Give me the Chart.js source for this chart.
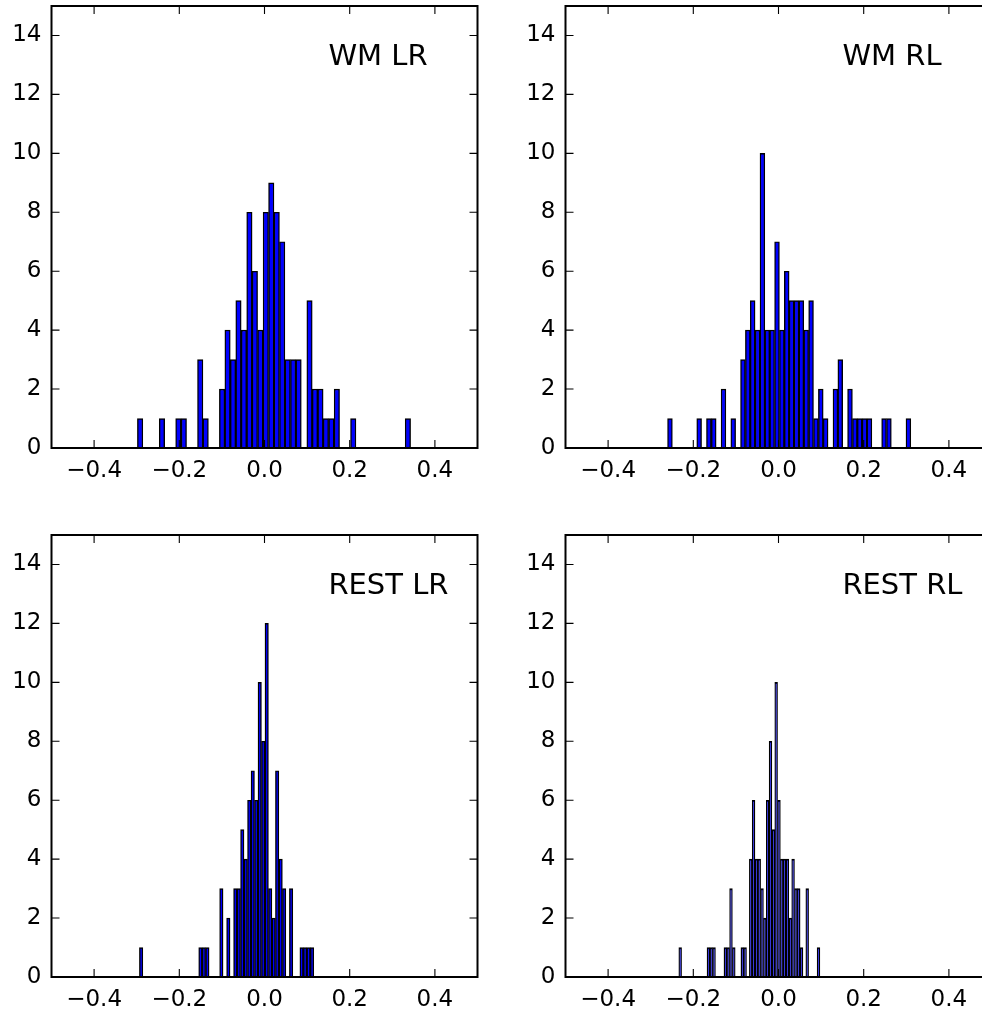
<!DOCTYPE html>
<html><head><meta charset="utf-8">
<script src="https://cdn.jsdelivr.net/npm/chart.js@4/dist/chart.umd.min.js"></script>
<style>
html,body{margin:0;padding:0;width:982px;height:1009px;overflow:hidden;background:#fff;}
#wrap{position:relative;width:982px;height:1009px;overflow:hidden;background:#fff;}
canvas{position:absolute;}
</style></head><body>
<div id="wrap">
<canvas id="c0" width="490" height="490" style="left:0px;top:0px"></canvas>
<canvas id="c1" width="490" height="490" style="left:514px;top:0px"></canvas>
<canvas id="c2" width="490" height="490" style="left:0px;top:529px"></canvas>
<canvas id="c3" width="490" height="490" style="left:514px;top:529px"></canvas>
</div>
<script>
// ---- data ----
const panelTitles = ["WM LR", "WM RL", "REST LR", "REST RL"];

// histogram ranges (first bin left edge, last bin right edge) and 50 bin counts
const wmLrRange = [-0.2984, 0.343];
const wmLrCounts = [1,0,0,0,1,0,0,1,1,0, 0,3,1,0,0,2,4,3,5,4, 8,6,4,8,9,8,7,3,3,3, 0,5,2,2,1,1,2,0,0,1, 0,0,0,0,0,0,0,0,0,1];

const wmRlRange = [-0.2605, 0.3106];
const wmRlCounts = [1,0,0,0,0,0,1,0,1,1, 0,2,0,1,0,3,4,5,4,10, 4,4,7,4,6,5,5,5,4,5, 1,2,1,0,2,3,0,2,1,1, 1,1,0,0,1,1,0,0,0,1];

const restLrRange = [-0.2937, 0.1157];
const restLrCounts = [1,0,0,0,0,0,0,0,0,0, 0,0,0,0,0,0,0,1,1,1, 0,0,0,3,0,2,0,3,3,5, 4,6,7,6,10,8,12,3,2,7, 4,3,0,3,0,0,1,1,1,1];

const restRlRange = [-0.2341, 0.0972];
const restRlCounts = [1,0,0,0,0,0,0,0,0,0, 1,1,1,0,0,0,1,1,3,1, 0,0,1,1,0,4,6,4,4,3, 2,6,8,5,10,6,4,4,4,2, 4,3,3,1,0,3,0,0,0,1];

const xTickValues = [-0.4, -0.2, 0.0, 0.2, 0.4];
const yTickValues = [0, 2, 4, 6, 8, 10, 12, 14];

// ---- helpers ----
function binCenters(range, n) {
  const w = (range[1] - range[0]) / n;
  return Array.from({length: n}, (_, i) => range[0] + w * (i + 0.5));
}
function fmtX(v) {
  const s = Math.abs(v).toFixed(1);
  return v < -1e-9 ? '\u2212' + s : s;
}
const FONT = 'DejaVu Sans';

const axesDecor = {
  id: 'axesDecor',
  afterDatasetsDraw(chart, args, opts) {
    const {ctx, chartArea: a, scales: {x, y}} = chart;
    ctx.save();
    ctx.strokeStyle = '#000';
    ctx.lineWidth = 1.1;
    ctx.beginPath();
    const tl = 8;
    xTickValues.forEach(v => {
      const px = x.getPixelForValue(v);
      ctx.moveTo(px, a.bottom); ctx.lineTo(px, a.bottom - tl);
      ctx.moveTo(px, a.top); ctx.lineTo(px, a.top + tl);
    });
    yTickValues.forEach(v => {
      const py = y.getPixelForValue(v);
      ctx.moveTo(a.left, py); ctx.lineTo(a.left + tl, py);
      ctx.moveTo(a.right, py); ctx.lineTo(a.right - tl, py);
    });
    ctx.stroke();
    ctx.lineWidth = 2;
    ctx.strokeRect(a.left, a.top, a.right - a.left, a.bottom - a.top);
    ctx.fillStyle = '#000';
    ctx.font = '29px "' + FONT + '"';
    ctx.textAlign = 'left';
    ctx.textBaseline = 'alphabetic';
    ctx.fillText(opts.title, x.getPixelForValue(0.15), y.getPixelForValue(13));
    ctx.restore();
  }
};

function makePanel(id, title, range, counts) {
  const centers = binCenters(range, counts.length);
  new Chart(document.getElementById(id), {
    type: 'bar',
    data: {
      datasets: [{
        data: counts.map((c, i) => ({x: centers[i], y: c})),
        backgroundColor: '#0000ff',
        borderColor: '#000000',
        borderWidth: 1.4,
        inflateAmount: 0.3,
        barPercentage: 1.0,
        categoryPercentage: 1.0
      }]
    },
    options: {
      responsive: false,
      animation: false,
      events: [],
      layout: {padding: {top: 6, right: 12.5, left: 0, bottom: 0}},
      plugins: {legend: {display: false}, tooltip: {enabled: false}, axesDecor: {title: title}},
      scales: {
        x: {
          type: 'linear', min: -0.5, max: 0.5, offset: false,
          grid: {display: false, drawTicks: false},
          border: {display: false},
          afterBuildTicks: s => { s.ticks = xTickValues.map(v => ({value: v})); },
          afterFit: s => { s.height = 42; s.paddingLeft = 0; s.paddingRight = 0; s.paddingTop = 0; s.paddingBottom = 0; },
          ticks: {font: {family: FONT, size: 23}, color: '#000', padding: 9, maxRotation: 0, autoSkip: false,
                  callback: v => fmtX(v)}
        },
        y: {
          type: 'linear', min: 0, max: 15,
          grid: {display: false, drawTicks: false},
          border: {display: false},
          afterBuildTicks: s => { s.ticks = yTickValues.map(v => ({value: v})); },
          afterFit: s => { s.width = 51.5; s.paddingLeft = 0; s.paddingRight = 0; s.paddingTop = 0; s.paddingBottom = 0; },
          ticks: {font: {family: FONT, size: 23}, color: '#000', padding: 10, autoSkip: false,
                  callback: v => String(v)}
        }
      }
    },
    plugins: [axesDecor]
  });
}

makePanel('c0', panelTitles[0], wmLrRange, wmLrCounts);
makePanel('c1', panelTitles[1], wmRlRange, wmRlCounts);
makePanel('c2', panelTitles[2], restLrRange, restLrCounts);
makePanel('c3', panelTitles[3], restRlRange, restRlCounts);
</script>
</body></html>
